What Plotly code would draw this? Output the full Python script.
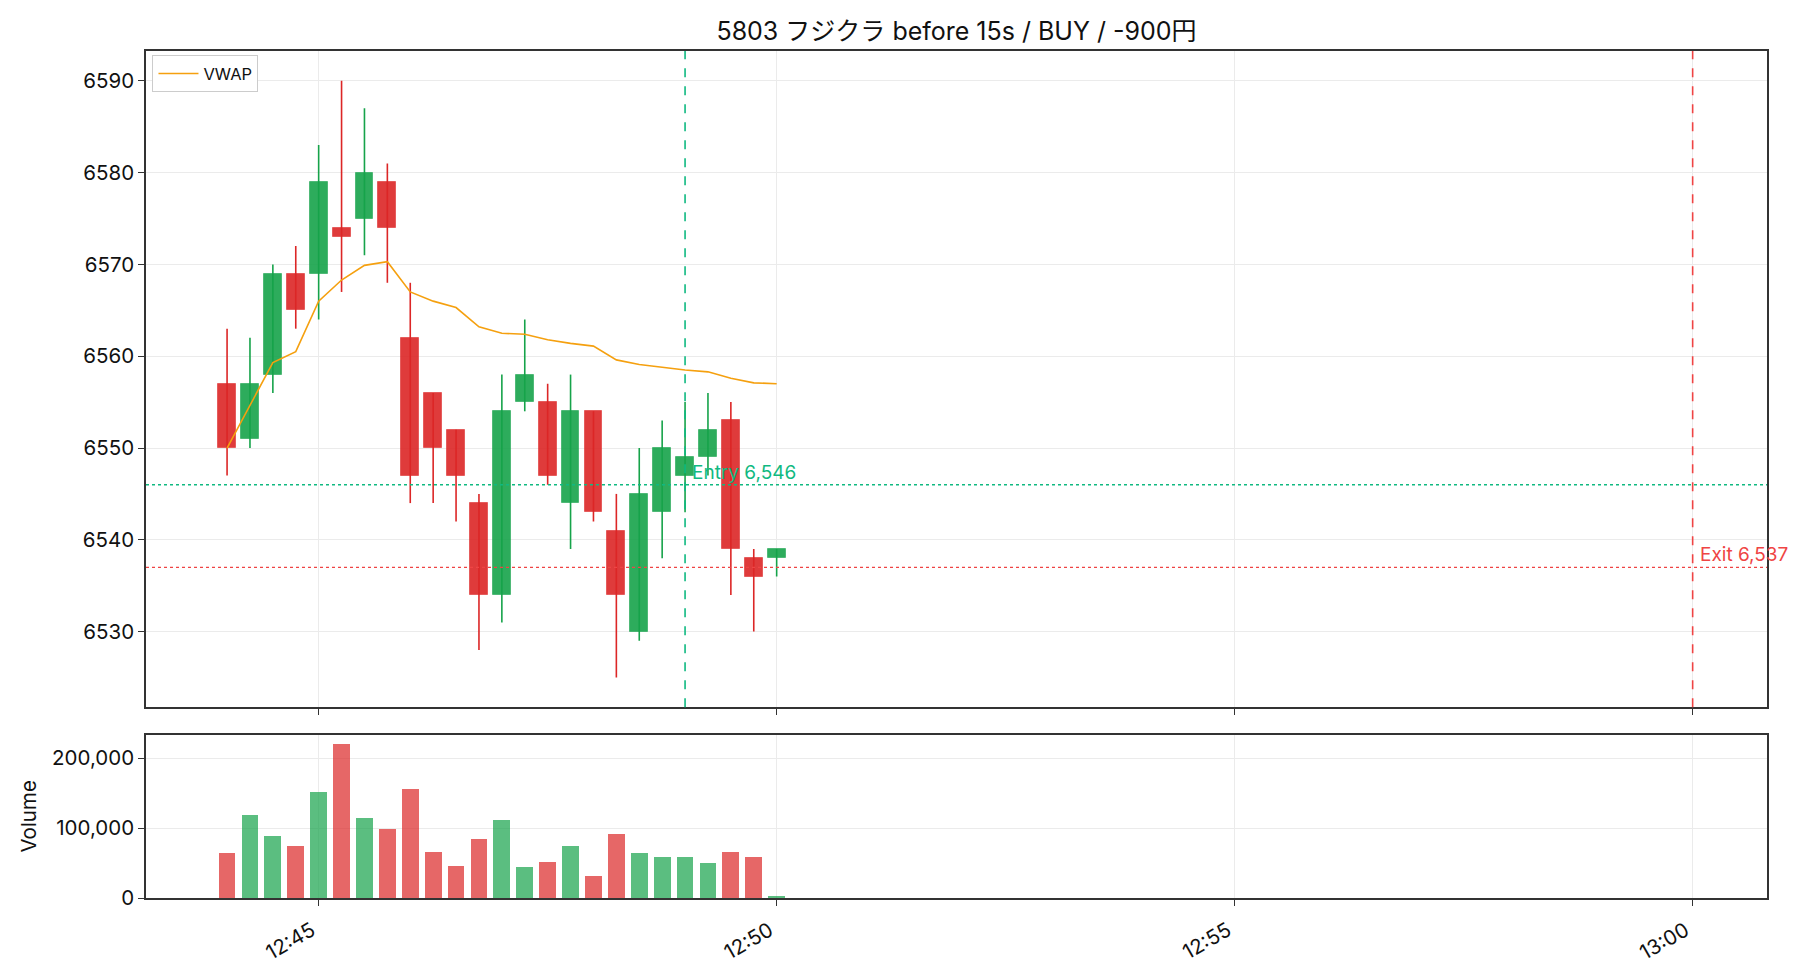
import plotly.graph_objects as go

# ---------------- data ----------------
times = ["12:44:00", "12:44:15", "12:44:30", "12:44:45", "12:45:00", "12:45:15",
         "12:45:30", "12:45:45", "12:46:00", "12:46:15", "12:46:30", "12:46:45",
         "12:47:00", "12:47:15", "12:47:30", "12:47:45", "12:48:00", "12:48:15",
         "12:48:30", "12:48:45", "12:49:00", "12:49:15", "12:49:30", "12:49:45",
         "12:50:00"]
opens = [6557, 6551, 6558, 6569, 6569, 6574, 6575, 6579, 6562, 6556, 6552, 6544,
         6534, 6555, 6555, 6544, 6554, 6541, 6530, 6543, 6547, 6549, 6553, 6538, 6538]
highs = [6563, 6562, 6570, 6572, 6583, 6590, 6587, 6581, 6568, 6556, 6552, 6545,
         6558, 6564, 6557, 6558, 6554, 6545, 6550, 6553, 6555, 6556, 6555, 6539, 6539]
lows = [6547, 6550, 6556, 6563, 6564, 6567, 6571, 6568, 6544, 6544, 6542, 6528,
        6531, 6554, 6546, 6539, 6542, 6525, 6529, 6538, 6543, 6547, 6534, 6530, 6536]
closes = [6550, 6557, 6569, 6565, 6579, 6573, 6580, 6574, 6547, 6550, 6547, 6534,
          6554, 6558, 6547, 6554, 6543, 6534, 6545, 6550, 6549, 6552, 6539, 6536, 6539]
volumes = [65000, 119000, 89000, 75000, 152000, 221000, 115000, 99000, 156000,
           66000, 46000, 85000, 112000, 45000, 52000, 75000, 32000, 92000, 65000,
           59000, 59000, 51000, 66000, 59000, 4000]
vwap = [6550.0, 6554.6, 6559.3, 6560.5, 6566.0, 6568.3, 6569.9, 6570.3, 6567.0,
        6566.0, 6565.3, 6563.2, 6562.5, 6562.4, 6561.8, 6561.4, 6561.1, 6559.6,
        6559.1, 6558.8, 6558.5, 6558.3, 6557.6, 6557.1, 6557.0]

entry_time = "12:49:00"
exit_time = "13:00:00"
entry_price = 6546
exit_price = 6537
title_text = "5803 フジクラ before 15s / BUY / -900円"
xtick_labels = ["12:45", "12:50", "12:55", "13:00"]

DAY = "2024-01-01 "
x = [DAY + t for t in times]

FONT = "Inter, Noto Sans CJK JP, sans-serif"
RED = "#dc2626"
GREEN = "#16a34a"
RED_BODY = "rgba(220,38,38,0.9)"
GREEN_BODY = "rgba(22,163,74,0.9)"
RED_VOL = "rgba(220,38,38,0.7)"
GREEN_VOL = "rgba(22,163,74,0.7)"
ENTRY_C = "#10b981"
EXIT_C = "#ef4444"
TXT = "#111111"

up = [c >= o for o, c in zip(opens, closes)]

fig = go.Figure()

# wicks
for flag, col in ((True, GREEN), (False, RED)):
    wx, wy = [], []
    for i in range(len(x)):
        if up[i] == flag:
            wx += [x[i], x[i], None]
            wy += [lows[i], highs[i], None]
    fig.add_trace(go.Scatter(x=wx, y=wy, mode="lines", line=dict(color=col, width=1.6),
                             showlegend=False, hoverinfo="skip", xaxis="x", yaxis="y"))

# bodies
for flag, col, edge in ((True, GREEN_BODY, "rgba(22,163,74,0.55)"),
                        (False, RED_BODY, "rgba(220,38,38,0.55)")):
    bx = [x[i] for i in range(len(x)) if up[i] == flag]
    base = [min(opens[i], closes[i]) for i in range(len(x)) if up[i] == flag]
    h = [abs(closes[i] - opens[i]) for i in range(len(x)) if up[i] == flag]
    fig.add_trace(go.Bar(x=bx, y=h, base=base, width=11700,
                         marker=dict(color=col, line=dict(color=edge, width=1)),
                         showlegend=False, xaxis="x", yaxis="y"))

# VWAP
fig.add_trace(go.Scatter(x=x, y=vwap, mode="lines", name="VWAP",
                         line=dict(color="#f5a00f", width=1.6), xaxis="x", yaxis="y"))

# volume
fig.add_trace(go.Bar(x=x, y=volumes, width=11000,
                     marker=dict(color=[GREEN_VOL if u else RED_VOL for u in up], line=dict(width=0)),
                     showlegend=False, xaxis="x2", yaxis="y2"))

# entry / exit lines
fig.add_shape(type="line", xref="x", yref="y domain", x0=DAY + entry_time, x1=DAY + entry_time,
              y0=0, y1=1, line=dict(color=ENTRY_C, width=1.6, dash="dash"))
fig.add_shape(type="line", xref="x", yref="y domain", x0=DAY + exit_time, x1=DAY + exit_time,
              y0=0, y1=1, line=dict(color=EXIT_C, width=1.6, dash="dash"))
fig.add_shape(type="line", xref="x domain", yref="y", x0=0, x1=1, y0=entry_price, y1=entry_price,
              line=dict(color=ENTRY_C, width=1.3, dash="dot"))
fig.add_shape(type="line", xref="x domain", yref="y", x0=0, x1=1, y0=exit_price, y1=exit_price,
              line=dict(color=EXIT_C, width=1.3, dash="dot"))

fig.add_annotation(x=DAY + entry_time, y=entry_price, xref="x", yref="y",
                   text=f"Entry {entry_price:,}", showarrow=False, xanchor="left", yanchor="bottom",
                   xshift=5, yshift=-1, font=dict(family=FONT, size=19, color=ENTRY_C))
fig.add_annotation(x=DAY + exit_time, y=exit_price, xref="x", yref="y",
                   text=f"Exit {exit_price:,}", showarrow=False, xanchor="left", yanchor="bottom",
                   xshift=5, yshift=-1, font=dict(family=FONT, size=19, color=EXIT_C))

xrange = [DAY + "12:43:06.9", DAY + "13:00:48.7"]
tickvals = [DAY + t + ":00" for t in xtick_labels]
axis_common = dict(showline=True, linecolor="#333333", linewidth=1.5, mirror=True,
                   ticks="outside", ticklen=6, tickwidth=1.3, tickcolor="#333333",
                   showgrid=True, gridcolor="#ebebeb", gridwidth=1, zeroline=False,
                   tickfont=dict(family=FONT, size=20.5, color=TXT))

fig.update_layout(
    width=1820, height=980,
    margin=dict(l=146, r=53, t=51, b=82),
    paper_bgcolor="white", plot_bgcolor="white",
    barmode="overlay", bargap=0,
    font=dict(family=FONT, color=TXT),
    title=dict(text=title_text, x=0.5, xref="paper", y=1 - 31 / 980, yref="container",
               yanchor="middle", font=dict(family=FONT, size=25, color=TXT)),
    xaxis=dict(domain=[0, 1], anchor="y", type="date", range=xrange, tickvals=tickvals,
               ticktext=xtick_labels, showticklabels=False, matches="x2", **axis_common),
    yaxis=dict(domain=[0.2251, 1], anchor="x", range=[6521.75, 6593.25],
               tickvals=[6530, 6540, 6550, 6560, 6570, 6580, 6590], **axis_common),
    xaxis2=dict(domain=[0, 1], anchor="y2", type="date", range=xrange, tickvals=tickvals,
                ticktext=xtick_labels, tickangle=-30, ticklabelshift=-7, ticklabelstandoff=5,
                **axis_common),
    yaxis2=dict(domain=[0, 0.1929], anchor="x2", range=[0, 233600],
                tickvals=[0, 100000, 200000], tickformat=",",
                title=dict(text="Volume", font=dict(family=FONT, size=20.5, color=TXT), standoff=10),
                **axis_common),
    legend=dict(x=0.004, y=0.995, xanchor="left", yanchor="top", bgcolor="white",
                bordercolor="#cccccc", borderwidth=1, font=dict(family=FONT, size=16.5, color=TXT),
                itemwidth=40, tracegroupgap=0),
    showlegend=True,
)

fig.write_html("out.html")
